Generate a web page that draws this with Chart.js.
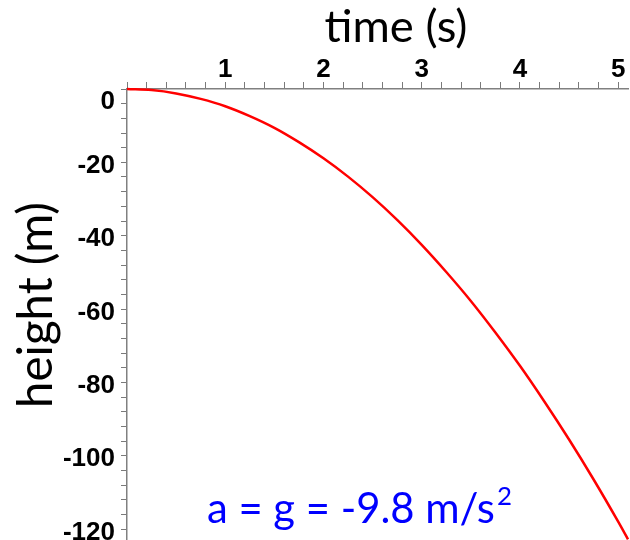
<!DOCTYPE html>
<html>
<head>
<script src="https://cdn.jsdelivr.net/npm/chart.js"></script>
<style>
  html, body { margin: 0; padding: 0; background: #fff; }
</style>
</head>
<body>
<canvas id="fallChart" width="630" height="540"></canvas>
<script>
// values
const times   = [0, 0.25, 0.5, 0.75, 1, 1.25, 1.5, 1.75, 2, 2.25, 2.5, 2.75, 3, 3.25, 3.5, 3.75, 4, 4.25, 4.5, 4.75, 5, 5.1];
const heights = [0, -0.3, -1.2, -2.7, -4.7, -7.4, -10.6, -14.5, -18.9, -23.9, -29.5, -35.7, -42.5, -49.9, -57.8, -66.4, -75.5, -85.3, -95.6, -106.5, -118, -122.8];
const xLabelTicks = [1, 2, 3, 4, 5];
const yLabelTicks = [0, -20, -40, -60, -80, -100, -120];

const xTitle = 'time (s)';
const yTitle = 'height (m)';
const note = 'a = g = -9.8 m/s';
const noteSup = '2';

// pick a font size so text spans a given width
function fitSize(text, font, width) {
  const c = document.createElement('canvas').getContext('2d');
  c.font = '100px ' + font;
  return 100 * width / c.measureText(text).width;
}
const xTitleSize = fitSize(xTitle, 'Lato', 143);
const yTitleSize = fitSize(yTitle, 'Lato', 206);
const noteSize = fitSize(note, 'Lato', 288);

const near = (v, list) => list.some(t => Math.abs(t - v) < 1e-6);

const textPlugin = {
  id: 'textPlugin',
  afterDraw(chart) {
    const ctx = chart.ctx;
    ctx.save();
    ctx.fillStyle = '#000';
    ctx.textBaseline = 'alphabetic';
    ctx.textAlign = 'center';
    ctx.font = xTitleSize + 'px Lato';
    ctx.fillText(xTitle, 396, 42);

    ctx.save();
    ctx.translate(52, 305);
    ctx.rotate(-Math.PI / 2);
    ctx.font = yTitleSize + 'px Lato';
    ctx.fillText(yTitle, 0, 0);
    ctx.restore();

    ctx.fillStyle = '#0000ff';
    ctx.textAlign = 'left';
    ctx.font = noteSize + 'px Lato';
    ctx.fillText(note, 207, 523);
    const w = ctx.measureText(note).width;
    ctx.font = (noteSize * 0.62) + 'px Lato';
    ctx.fillText(noteSup, 207 + w + 2, 505);
    ctx.restore();
  }
};

const ctx = document.getElementById('fallChart');
const fallChart = new Chart(ctx, {
  type: 'line',
  data: {
    datasets: [{
      data: times.map((t, i) => ({x: t, y: heights[i]})),
      borderColor: '#ff0000',
      borderWidth: 2.5,
      pointRadius: 0,
      tension: 0.4,
      cubicInterpolationMode: 'monotone',
      clip: 6
    }]
  },
  options: {
    responsive: false,
    animation: false,
    devicePixelRatio: 1,
    layout: { padding: { left: 0, right: 2, top: 0, bottom: 0 } },
    plugins: { legend: { display: false }, tooltip: { enabled: false } },
    scales: {
      x: {
        type: 'linear',
        position: 'top',
        min: 0,
        max: 5.1,
        afterFit: s => { s.height = 89; s.paddingLeft = 0; s.paddingRight = 0; },
        border: { display: true, color: '#808080', width: 1.5 },
        grid: { drawOnChartArea: false, drawTicks: true, tickLength: 7, tickColor: '#7a7a7a', tickWidth: 1 },
        ticks: {
          stepSize: 0.2,
          autoSkip: false,
          includeBounds: false,
          maxRotation: 0,
          padding: -1,
          color: '#000',
          font: { family: 'Liberation Sans', weight: 'bold', size: 26, lineHeight: 1 },
          callback: v => near(v, xLabelTicks) ? String(Math.round(v)) : ''
        }
      },
      y: {
        position: 'left',
        min: -123,
        max: 0,
        afterFit: s => { s.width = 127; s.paddingTop = 0; s.paddingBottom = 0; },
        border: { display: true, color: '#808080', width: 1.5 },
        grid: { drawOnChartArea: false, drawTicks: true, tickLength: 6, tickColor: '#7a7a7a', tickWidth: 1 },
        ticks: {
          stepSize: 4,
          autoSkip: false,
          includeBounds: false,
          padding: 6,
          labelOffset: 3.5,
          color: '#000',
          font: { family: 'Liberation Sans', weight: 'bold', size: 26, lineHeight: 0.75 },
          callback: v => {
            if (!near(v, yLabelTicks)) return '';
            const r = Math.round(v);
            return r === 0 ? ['', '0'] : String(r);
          }
        }
      }
    }
  },
  plugins: [textPlugin]
});
</script>
</body>
</html>
